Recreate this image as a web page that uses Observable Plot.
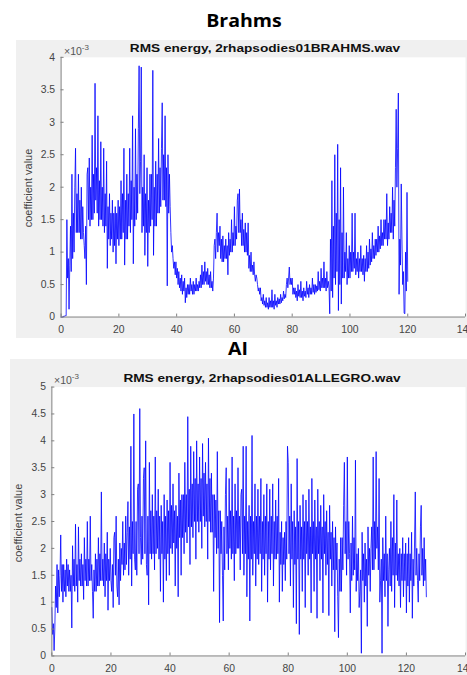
<!DOCTYPE html>
<html><head><meta charset="utf-8">
<script src="https://cdn.jsdelivr.net/npm/d3@7"></script>
<script src="https://cdn.jsdelivr.net/npm/@observablehq/plot@0.6"></script>
<style>
html,body{margin:0;padding:0;background:#fff;width:467px;height:675px;overflow:hidden;position:relative;font-family:"Liberation Sans",Arial,sans-serif;}
.panel{position:absolute;background:#f0f0f0;overflow:hidden;}
.panel svg{position:absolute;left:0;top:0;overflow:visible;}
.big{position:absolute;font-family:"Open Sans",sans-serif;font-weight:700;font-size:17px;color:#000;white-space:nowrap;transform:translate(-50%,-50%) scaleX(1.15);}
.ptitle{position:absolute;font-family:"Liberation Sans",Arial,sans-serif;font-weight:700;font-size:11px;color:#111;white-space:nowrap;transform:translate(-50%,-50%) scaleX(1.24);}
.exp{position:absolute;font-size:10.5px;color:#555;white-space:nowrap;}
.exp sup{font-size:8px;}
.ylab{position:absolute;font-size:11px;color:#444;white-space:nowrap;transform:translate(-50%,-50%) rotate(-90deg);}
</style>
</head><body>
<script>
// ---- data (values in units of 1e-3), one sample every 0.25 s ----
const timeStep = 0.25;
const brahmsValues = [
0,0,0,0, 0.02,0.01,0.02,0.02, 1.5,0.6,0.9,0.12, 0.8,1.4,0.7,2.2, 0.9,1.6,1.0,2.0,
2.6,1.3,1.9,1.3, 2.2,1.3,1.8,1.2, 2.0,1.2,1.7,1.3, 1.1,0.9,1.4,0.5, 2.2,2.3,1.5,2.45,
1.4,2.0,1.5,2.8, 1.5,2.2,1.6,3.6, 1.8,2.3,1.6,3.1, 1.4,2.1,1.5,2.7, 1.5,2.0,1.4,2.6,
1.3,1.9,1.4,2.4, 0.75,1.7,1.2,1.9, 1.1,1.6,1.2,1.8, 1.0,1.6,1.1,1.7, 0.82,1.6,1.2,1.8,
1.1,1.7,1.2,2.1, 1.2,1.9,1.3,2.6, 0.8,1.8,1.2,2.2, 1.2,1.9,1.4,2.6, 1.3,2.1,1.5,3.1,
0.82,2.0,1.4,2.9, 1.5,2.2,1.6,2.9, 3.87,1.9,2.4,3.85, 1.3,2.0,1.4,2.5, 0.95,1.9,1.3,2.3,
0.78,1.8,1.3,2.2, 1.4,2.2,1.5,3.8, 0.95,2.0,1.4,2.4, 1.4,2.2,1.6,2.75, 1.6,2.3,1.7,2.6,
3.3,1.8,2.5,1.8, 3.1,1.7,2.3,0.48, 2.5,1.6,2.2,1.7, 1.3,1.0,1.1,0.9, 0.75,0.85,0.65,0.85,
0.6,0.75,0.5,0.7, 0.45,0.6,0.4,0.65, 0.35,0.55,0.4,0.6, 0.22,0.45,0.3,0.5, 0.35,0.5,0.35,0.6,
0.4,0.5,0.35,0.55, 0.35,0.5,0.4,0.6, 0.4,0.5,0.4,0.55, 0.45,0.65,0.45,0.8, 0.5,0.7,0.5,0.85,
0.55,0.7,0.5,0.75, 0.5,0.65,0.45,0.7, 0.45,0.55,0.4,0.6, 1.1,1.2,0.9,1.3, 1.6,1.0,1.3,1.1,
1.4,0.9,1.2,0.85, 1.25,0.85,1.1,0.9, 1.2,0.9,1.1,0.65, 1.3,0.95,1.2,1.0, 1.5,1.0,1.3,1.1,
1.7,1.1,1.4,1.2, 1.8,1.9,1.3,1.97, 1.3,1.5,1.1,1.6, 1.1,1.35,1.0,1.45, 1.0,1.3,0.95,1.45,
0.75,0.95,0.7,1.0, 0.7,0.8,0.65,0.85, 0.65,0.55,0.65,0.6, 0.5,0.4,0.45,0.35, 0.45,0.25,0.3,0.2,
0.35,0.18,0.25,0.15, 0.3,0.15,0.22,0.12, 0.3,0.15,0.25,0.15, 0.42,0.15,0.25,0.12, 0.35,0.18,0.25,0.15,
0.3,0.2,0.28,0.2, 0.35,0.22,0.3,0.25, 0.4,0.28,0.35,0.3, 0.5,0.6,0.45,0.6, 0.77,0.5,0.6,0.5,
0.6,0.35,0.45,0.35, 0.45,0.3,0.4,0.25, 0.5,0.32,0.42,0.3, 0.55,0.3,0.4,0.25, 0.45,0.32,0.4,0.3,
0.55,0.35,0.45,0.3, 0.5,0.35,0.45,0.35, 0.6,0.38,0.5,0.35, 0.5,0.38,0.48,0.4, 0.7,0.42,0.55,0.4,
0.75,0.45,0.6,0.45, 0.85,0.45,0.6,0.4, 0.7,0.45,0.55,0.45, 0.05,1.2,0.4,2.1, 0.3,1.4,0.6,2.5,
0.5,1.6,0.7,2.66, 0.1,1.5,0.5,2.3, 0.2,1.3,0.6,2.0, 0.6,1.0,0.7,1.3, 0.5,0.9,0.6,1.1,
0.6,1.0,0.7,1.6, 0.7,1.0,0.75,1.6, 0.65,0.9,0.7,1.0, 0.6,0.9,0.7,1.1, 0.7,0.9,0.65,0.95,
0.55,0.9,0.7,1.1, 0.7,1.0,0.75,1.2, 0.8,1.05,0.85,1.3, 0.9,1.1,0.9,1.2, 0.95,1.2,1.0,1.4,
1.0,1.25,1.05,1.5, 1.1,1.3,1.1,1.5, 1.2,1.5,1.2,1.9, 1.1,1.45,1.2,1.7, 1.3,1.6,1.3,2.0,
1.2,1.8,1.4,2.3, 3.2,2.0,2.6,3.45, 0.35,1.2,0.8,2.05, 1.2,0.5,0.7,0.06, 0.05,1.0,0.4,1.92,
0.55
];
const aiValues = [
0.9,0.4,0.6,0.1, 0.5,1.3,0.9,1.7, 0.8,1.6,1.1,1.5, 2.25,1.2,1.7,1.0, 1.7,1.2,1.6,1.1,
1.8,1.3,1.7,1.2, 1.6,1.2,1.5,0.52, 2.05,1.3,1.8,1.2, 2.45,1.3,1.7,1.0, 2.4,1.4,1.8,1.3,
1.9,1.3,1.7,1.05, 2.2,1.4,1.8,1.3, 2.5,1.3,1.8,1.4, 2.6,1.4,1.7,1.2, 0.7,1.6,1.2,1.9,
1.2,1.8,1.3,2.2, 1.3,1.9,1.4,3.05, 1.4,1.8,1.3,2.1, 1.1,1.9,1.4,2.3, 0.85,1.8,1.4,2.0,
1.4,1.2,1.7,0.9, 2.2,2.3,1.5,2.6, 1.3,1.1,1.8,0.95, 2.1,1.4,2.0,1.7, 2.5,1.5,2.1,1.6,
2.6,1.7,2.3,2.87, 1.5,2.4,1.8,3.9, 1.3,2.5,1.9,4.5, 1.8,1.6,2.5,1.5, 3.1,3.2,1.9,4.6,
2.2,1.7,2.6,1.8, 3.3,3.5,1.9,4.0, 1.7,1.5,2.6,0.95, 3.6,1.9,2.7,1.8, 3.0,1.9,2.6,1.6,
3.7,1.9,2.7,2.0, 3.1,1.8,2.6,1.2, 2.8,1.9,2.5,1.0, 3.0,1.8,2.6,1.4, 2.9,1.9,2.7,1.5,
3.6,2.0,2.8,1.9, 3.2,2.1,2.7,1.3, 2.8,2.0,2.6,1.1, 3.4,2.2,2.9,1.5, 3.0,2.2,3.0,1.9,
3.6,2.3,3.0,2.1, 4.45,2.4,3.1,1.7, 3.9,2.4,3.2,2.2, 3.8,2.5,3.3,1.8, 4.0,2.5,3.2,2.3,
3.7,2.5,3.3,2.0, 3.95,2.6,3.4,2.4, 3.6,2.5,3.2,1.8, 4.05,2.5,3.3,2.3, 3.4,2.3,3.0,1.2,
3.0,2.2,2.9,1.9, 3.8,2.0,2.7,0.62, 2.7,1.9,2.5,1.5, 0.65,2.4,1.6,3.0, 3.5,1.9,2.6,1.6,
3.3,2.0,2.7,1.8, 3.7,1.9,2.6,1.4, 3.2,1.9,2.7,2.0, 3.5,2.0,2.6,1.6, 3.0,3.1,1.9,3.9,
1.5,2.6,1.9,3.9, 1.1,2.5,1.8,2.8, 0.65,2.6,1.8,4.1, 1.5,2.5,1.9,3.2, 1.3,2.6,1.8,3.1,
1.7,2.6,1.9,3.3, 1.2,2.5,1.8,3.0, 1.5,2.6,1.9,3.2, 1.0,2.5,1.8,3.1, 1.6,2.6,1.9,3.2,
1.3,2.5,1.8,2.9, 1.8,2.6,1.9,3.3, 1.0,2.3,1.7,2.5, 1.2,2.2,1.7,2.3, 1.4,2.5,1.8,3.9,
3.6,1.9,2.6,1.3, 3.2,1.8,2.5,0.9, 2.7,1.7,2.4,0.6, 3.67,1.8,2.5,0.4, 2.8,1.8,2.4,1.2,
3.0,1.8,2.5,0.9, 2.9,1.9,2.5,1.5, 3.1,1.8,2.4,0.8, 3.3,1.9,2.5,1.2, 2.9,1.8,2.4,0.7,
3.1,1.9,2.5,1.4, 2.8,1.8,2.4,0.8, 3.0,1.9,2.5,1.5, 2.7,1.7,2.3,0.75, 2.8,1.8,2.3,1.3,
2.5,1.6,2.2,0.45, 2.4,1.6,2.1,1.1, 0.34,1.8,1.2,2.2, 1.2,2.2,1.6,2.8, 3.6,1.9,2.5,1.5,
3.7,1.8,2.5,1.9, 0.8,2.1,1.4,2.6, 1.5,2.2,1.6,3.64, 1.2,1.9,1.4,2.0, 0.9,1.2,1.6,0.05,
2.3,1.4,1.9,1.0, 2.1,1.3,1.8,0.55, 2.4,1.5,2.0,1.2, 2.0,2.4,1.6,3.7, 1.6,2.5,1.8,3.8,
2.0,2.4,1.6,3.3, 1.0,1.4,1.8,0.05, 2.2,1.4,1.9,1.1, 2.6,1.4,1.9,0.55, 1.6,2.0,1.3,2.5,
1.2,2.2,1.5,3.0, 0.9,2.1,1.5,2.9, 1.4,1.9,1.3,2.0, 0.9,1.9,1.4,2.2, 1.1,1.9,1.4,2.1,
0.8,1.9,1.3,2.2, 1.0,1.9,1.4,2.3, 0.7,1.8,1.3,2.1, 3.05,1.5,2.0,1.4, 1.0,1.9,1.4,2.4,
2.8,1.5,2.0,1.3, 2.2,1.4,1.8,1.1
];
const brahmsYTicks = [0,0.5,1,1.5,2,2.5,3,3.5,4];
const aiYTicks = [0,0.5,1,1.5,2,2.5,3,3.5,4,4.5,5];
const xTicks = [0,20,40,60,80,100,120,140];
const bigTitles = ["Brahms", "AI"];
const plotTitles = ["RMS energy, 2rhapsodies01BRAHMS.wav", "RMS energy, 2rhapsodies01ALLEGRO.wav"];
const yLabel = "coefficient value";

function toRows(vals){ return vals.map((v,i)=>({t:i*timeStep, v})); }

function chart(values, yMax, yTicks, o){
  return Plot.plot({
    width:o.w, height:o.h,
    marginLeft:o.ml, marginRight:2, marginTop:o.mt, marginBottom:o.mb,
    style:{background:"transparent", fontFamily:"Liberation Sans, Arial, sans-serif", fontSize:"10.5px", color:"#444", overflow:"visible"},
    x:{domain:[0,140]},
    y:{domain:[0,yMax]},
    marks:[
      Plot.frame({fill:"white", stroke:"none"}),
      Plot.line(toRows(values), {x:"t", y:"v", stroke:"#0000ff", strokeWidth:0.85, strokeOpacity:0.95}),
      Plot.ruleX([0], {stroke:"#808080"}),
      Plot.ruleY([0], {stroke:"#808080"}),
      Plot.axisX({ticks:xTicks, tickFormat:d=>`${d}`, tickSize:-3, tickPadding:o.xpad, label:null, stroke:"#808080", color:"#444"}),
      Plot.axisY({ticks:yTicks, tickFormat:d=>`${d}`, tickSize:-3, tickPadding:9, label:null, stroke:"#808080", color:"#444"})
    ]
  });
}

function addEl(cls, html, left, top){
  const d = document.createElement("div"); d.className = cls; d.innerHTML = html;
  d.style.left = left+"px"; d.style.top = top+"px"; document.body.appendChild(d); return d;
}

// Brahms panel
const p1 = document.createElement("div"); p1.className="panel";
Object.assign(p1.style,{left:"16px", top:"40px", width:"451px", height:"298px"});
document.body.appendChild(p1);
p1.appendChild(chart(brahmsValues, 4, brahmsYTicks, {w:455, h:298, ml:45, mt:17, mb:19, xpad:12}));

// AI panel
const p2 = document.createElement("div"); p2.className="panel";
Object.assign(p2.style,{left:"10px", top:"359px", width:"457px", height:"316px"});
document.body.appendChild(p2);
p2.appendChild(chart(aiValues, 5, aiYTicks, {w:464, h:316, ml:42, mt:28, mb:15, xpad:12}));

addEl("big", bigTitles[0], 244, 20);
addEl("big", bigTitles[1], 238, 348);
addEl("ptitle", plotTitles[0], 265, 48);
addEl("ptitle", plotTitles[1], 262, 378);
addEl("exp", "×10<sup>-3</sup>", 64, 43);
addEl("exp", "×10<sup>-3</sup>", 54, 372);
addEl("ylab", yLabel, 28, 188);
addEl("ylab", yLabel, 18, 523);
</script>
</body></html>
